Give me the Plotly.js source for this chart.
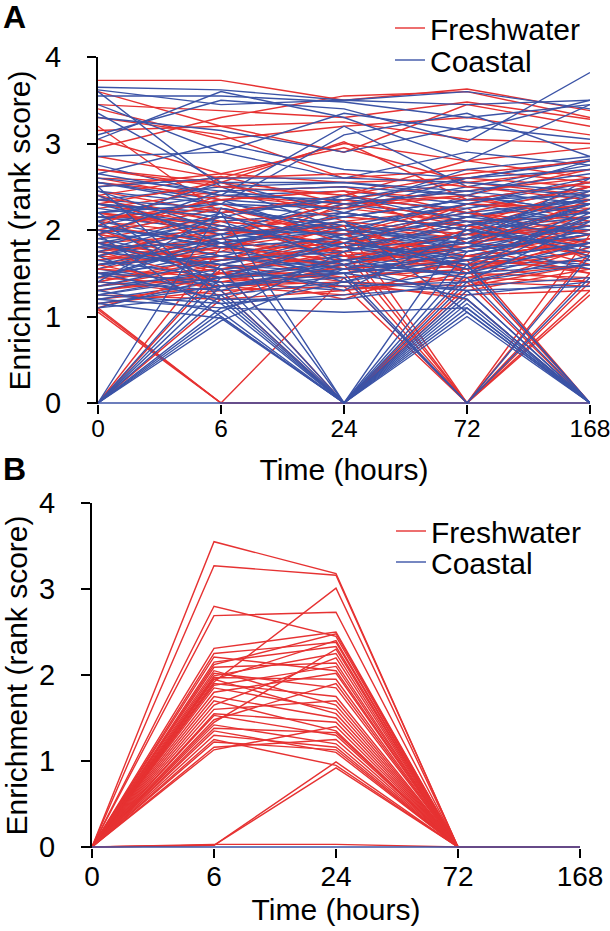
<!DOCTYPE html>
<html>
<head>
<meta charset="utf-8">
<script src="https://cdn.plot.ly/plotly-3.0.1.min.js"></script>
<style>html,body{margin:0;padding:0;background:#fff;}#chart{width:610px;height:931px;}</style>
</head>
<body>
<div id="chart"></div>
<script>
// ---------- data ----------
var timeCategories = ['0', '6', '24', '72', '168'];
var yTickValues = [0, 1, 2, 3, 4];
var yTickLabels = ['0', '1', '2', '3', '4'];

// Panel A - Freshwater (rank scores at 0, 6, 24, 72, 168 h)
var freshwaterA_upper = [
  [3.73,3.73,3.50,3.63,3.38],[3.45,3.38,3.30,3.48,3.28],[3.40,3.05,3.20,3.30,3.10],
  [3.15,3.20,3.25,3.05,3.00],[3.05,2.65,2.95,2.55,2.70],[2.95,3.30,3.55,3.60,3.30],
  [3.60,3.20,2.90,3.45,3.20],[2.85,2.60,3.00,2.80,2.60],[3.30,3.10,2.60,2.70,2.55],
  [2.70,2.55,2.40,2.80,2.95],[3.20,2.20,2.40,2.20,2.50],[2.60,2.55,3.02,2.35,2.20],
  [2.40,2.62,2.30,2.40,2.10]
];
var freshwaterA_band1 = [
  [1.85,1.95,2.05,1.90,2.10],[2.15,2.25,1.95,2.30,2.20],[1.60,1.75,1.85,1.70,1.95],
  [2.35,2.10,2.20,2.00,2.45],[1.95,1.70,1.60,1.85,1.75],[1.45,1.55,1.70,1.60,1.65],
  [2.55,2.40,2.30,2.45,2.60],[1.75,2.00,2.15,2.05,1.85],[2.05,1.85,1.75,2.15,2.30],
  [1.30,1.45,1.55,1.40,1.35],[2.25,2.45,2.50,2.20,2.05],[1.70,1.60,1.90,1.75,2.00],
  [1.90,2.15,2.00,1.65,1.90],[2.45,2.20,2.35,2.55,2.40],[1.55,1.80,1.65,1.95,1.70],
  [2.10,1.95,2.25,2.10,2.15],[1.20,1.35,1.25,1.50,1.45],
  [1.60,1.85,1.55,1.90,2.15],[2.20,1.95,2.10,2.25,1.65],[1.40,1.65,1.95,1.55,1.85],
  [1.95,1.75,2.30,2.05,2.50]
];
var freshwaterA_band2 = [
  [1.80,1.65,1.80,2.30,2.25],[2.30,2.55,2.10,1.95,2.00],[1.65,1.90,2.35,2.10,1.80],
  [2.00,2.30,1.85,1.80,2.35],[1.50,1.40,1.50,1.65,1.55],[2.60,2.35,2.45,2.35,2.55],
  [1.35,1.60,1.40,1.35,1.60],[2.20,2.05,1.70,1.95,2.05],[1.95,2.40,2.25,2.40,2.70],
  [1.40,1.25,1.60,1.80,1.50],[2.50,2.65,2.55,2.60,2.50],[1.15,1.30,1.35,1.25,1.30],
  [1.70,2.10,1.95,2.20,1.95],[2.40,1.80,2.00,1.70,1.85],[1.85,1.50,1.45,1.55,1.75],
  [2.05,2.60,2.65,2.50,2.35],[1.25,1.20,1.30,1.45,1.40],[2.70,2.50,2.40,2.65,2.80],
  [1.75,1.40,1.65,2.00,1.60],[2.30,2.05,1.75,1.60,1.95],[1.10,1.50,1.20,1.70,1.50],
  [2.10,2.35,2.45,1.85,2.25]
];
var freshwaterA_zero = [
  [0,1.20,1.60,1.85,2.00],[0,1.55,1.80,2.05,1.70],[0,1.80,2.10,1.50,1.90],
  [1.05,0,1.45,1.60,1.40],[1.08,0,0,1.30,1.55],[1.10,0,0,0,0],
  [1.60,1.30,0,1.35,1.80],[2.00,1.55,0,1.45,1.60],[1.40,1.70,1.45,0,1.30],
  [1.75,1.90,1.60,0,1.50],[2.20,2.00,1.85,0,1.75],[1.55,1.45,1.35,0,1.95],
  [1.85,1.65,2.05,0,1.40],[1.30,1.50,1.75,0,1.25],[2.40,2.10,1.95,1.40,0],
  [1.65,1.80,1.55,1.65,0],[1.95,2.25,1.70,1.55,0],[1.45,1.35,1.40,1.20,0]
];

// Panel A - Coastal
var coastalA_upper = [
  [3.65,3.62,3.50,3.60,3.40],[3.62,3.45,3.50,3.45,3.50],[3.55,3.55,3.48,3.30,3.45],
  [3.10,3.50,3.40,3.02,3.82],[3.45,2.90,3.35,3.15,3.50],[3.30,3.15,2.90,3.20,3.05],
  [3.05,3.60,3.30,2.80,3.45],[2.75,2.40,3.20,2.50,2.40],[3.35,2.55,2.20,2.60,2.80],
  [2.85,2.90,2.60,2.90,2.75],[2.65,3.00,2.70,2.60,2.82],[3.60,2.50,2.55,2.40,2.20],
  [2.55,2.30,3.10,3.35,2.85]
];
var coastalA_band1 = [
  [1.90,2.00,1.95,2.10,2.20],[2.10,1.85,2.05,1.95,2.25],[1.65,1.80,1.70,1.85,2.05],
  [2.30,2.20,2.35,2.25,2.45],[1.75,1.55,1.65,1.80,1.90],[1.50,1.65,1.80,1.70,2.00],
  [2.45,2.30,2.15,2.35,2.55],[1.85,2.10,2.20,2.00,2.15],[2.00,1.90,1.75,2.05,2.35],
  [1.35,1.50,1.45,1.60,1.75],[2.20,2.40,2.45,2.30,2.10],[1.60,1.70,1.95,1.90,2.30],
  [1.95,2.25,2.05,1.75,1.95],[2.55,2.35,2.25,2.50,2.75],[1.45,1.75,1.60,2.00,1.80],
  [2.15,2.00,2.30,2.15,2.40],[1.20,1.40,1.30,1.55,1.65],[1.80,1.60,1.85,2.25,2.50],
  [2.35,2.50,2.00,1.90,2.05],[1.70,1.95,2.40,2.20,1.85],[2.05,2.35,1.90,1.85,2.60],
  [1.55,1.35,1.55,1.70,1.60],
  [1.55,1.95,1.85,2.15,2.35],[2.15,2.10,1.65,1.95,2.05],[1.90,1.60,1.95,2.40,2.20],
  [1.25,1.50,1.70,1.45,1.80],[2.35,2.25,2.05,2.30,2.55]
];
var coastalA_band2 = [
  [2.60,2.45,2.50,2.40,2.80],[1.30,1.55,1.35,1.40,1.70],[2.25,2.05,1.80,2.05,2.20],
  [1.95,2.45,2.30,2.45,2.65],[1.40,1.30,1.65,1.85,1.55],[2.50,2.60,2.60,2.55,2.45],
  [1.10,1.25,1.40,1.30,1.35],[1.75,2.15,1.90,2.15,2.00],[2.40,1.85,2.10,1.75,1.95],
  [1.85,1.45,1.50,1.65,1.85],[2.10,2.55,2.55,2.45,2.30],[1.25,1.15,1.25,1.35,1.45],
  [2.65,2.40,2.35,2.60,2.70],[1.60,1.90,2.15,2.35,2.40],[2.00,1.70,1.55,1.50,2.15],
  [1.15,1.35,1.50,1.75,1.95],[2.30,2.15,2.40,2.10,1.70],[1.70,2.05,1.80,1.60,2.25],
  [1.50,1.20,1.20,1.40,2.10],[2.20,2.30,2.25,2.70,2.85],[1.80,1.85,2.00,2.30,2.60],
  [1.35,1.65,1.75,1.95,2.45],[2.45,2.00,1.95,2.20,2.35],
  [1.65,1.45,1.85,1.65,2.15],[2.05,1.80,2.20,2.00,1.80],[1.45,1.85,1.40,1.80,2.30],
  [1.80,2.20,1.60,1.90,2.40],[1.10,1.45,1.60,1.50,1.60]
];
var coastalA_zero = [
  [0,0.95,1.55,1.80,2.05],[0,1.00,0,1.05,0],[0,1.05,1.75,2.10,1.95],
  [0,1.10,1.40,1.65,1.85],[0,1.25,0,1.20,0],[0,1.45,1.90,1.55,2.20],
  [0,1.60,1.30,2.00,1.75],[0,2.25,2.00,1.85,2.30],[0,1.35,1.60,1.20,0],
  [1.15,0.98,0,1.10,0],[1.30,1.05,0,1.00,0],[1.70,1.15,0,1.30,0],
  [2.10,1.30,0,1.15,0],[1.50,1.40,0,1.50,1.85],[1.85,1.55,0,1.75,2.10],
  [2.30,1.95,0,2.05,2.30],[1.40,2.20,0,1.40,1.60],[1.95,1.00,0,1.25,1.40],
  [2.50,1.20,0,1.60,0],[1.60,1.70,1.50,1.30,0],[1.25,1.45,1.65,1.45,0],
  [2.05,1.80,1.90,1.60,0],[1.45,1.90,2.10,1.05,0],[1.75,1.60,1.50,0,1.45],
  [2.20,1.35,1.45,0,1.70],[1.20,1.10,1.05,1.10,0],
  [0,0,0,0,0]
];

// Panel B - Freshwater
var freshwaterB = [
  [0,3.55,3.18,0,0],[0,3.27,3.16,0,0],[0,2.80,2.45,0,0],[0,2.69,2.73,0,0],
  [0,2.31,2.50,0,0],[0,2.25,2.38,0,0],[0,2.21,2.05,0,0],[0,2.15,2.33,0,0],
  [0,2.09,2.14,0,0],[0,2.02,1.85,0,0],[0,1.99,2.25,0,0],[0,1.97,1.95,0,0],
  [0,1.95,2.40,0,0],[0,1.92,3.01,0,0],[0,1.90,1.75,0,0],[0,1.88,2.10,0,0],
  [0,1.85,1.60,0,0],[0,1.80,2.02,0,0],[0,1.75,1.50,0,0],[0,1.70,1.35,0,0],
  [0,1.65,2.20,0,0],[0,1.55,1.45,0,0],[0,1.53,1.30,0,0],[0,1.48,1.90,0,0],
  [0,1.42,1.20,0,0],[0,1.38,1.33,0,0],[0,1.30,1.16,0,0],[0,1.22,1.13,0,0],
  [0,1.16,1.25,0,0],[0,1.13,1.40,0,0],[0,0.02,0.99,0,0],[0,0.02,0.92,0,0],
  [0,1.60,1.70,0,0],[0,2.05,1.65,0,0],[0,1.45,2.30,0,0],[0,0.03,0.03,0,0],
  [0,1.25,0.95,0,0],[0,1.95,1.55,0,0],[0,2.12,2.48,0,0],[0,1.35,1.10,0,0]
];
// Panel B - Coastal
var coastalB = [
  [0,0,0,0,0]
];

// ---------- styling ----------
var RED = '#e63232';
var BLUE = '#3b53a6';
var FONT = '"Liberation Sans", Arial, Helvetica, sans-serif';
var LW = 1.4;

function linesTrace(rows, color, xa, ya, opts) {
  var xs = [], ys = [];
  rows.forEach(function (r) {
    for (var i = 0; i < timeCategories.length; i++) { xs.push(timeCategories[i]); ys.push(r[i]); }
    xs.push(null); ys.push(null);
  });
  var t = {
    type: 'scatter', mode: 'lines', x: xs, y: ys, xaxis: xa, yaxis: ya,
    line: {color: color, width: LW}, connectgaps: false, hoverinfo: 'skip', showlegend: false
  };
  if (opts) for (var k in opts) t[k] = opts[k];
  return t;
}

var traces = [
  linesTrace(freshwaterA_band1, RED, 'x', 'y', {showlegend: true, name: 'Freshwater', legend: 'legend'}),
  linesTrace(coastalA_band1, BLUE, 'x', 'y', {showlegend: true, name: 'Coastal', legend: 'legend2'}),
  linesTrace(freshwaterA_upper, RED, 'x', 'y'),
  linesTrace(coastalA_upper, BLUE, 'x', 'y'),
  linesTrace(freshwaterA_band2, RED, 'x', 'y'),
  linesTrace(freshwaterA_zero, RED, 'x', 'y'),
  linesTrace(coastalA_band2, BLUE, 'x', 'y'),
  linesTrace(coastalA_zero, BLUE, 'x', 'y'),
  linesTrace(freshwaterB, RED, 'x2', 'y2', {showlegend: true, name: 'Freshwater', legend: 'legend3'}),
  linesTrace(coastalB, BLUE, 'x2', 'y2', {showlegend: true, name: 'Coastal', legend: 'legend4'})
];

var W = 610, H = 931;
function px(v) { return v / W; }
function py(v) { return 1 - v / H; }

function xAxis(dom, anchor, tickSize, titleStandoff) {
  return {
    domain: dom, anchor: anchor, type: 'category', categoryorder: 'array', categoryarray: timeCategories,
    range: [0, 4], showline: false, showgrid: false, zeroline: false,
    ticks: 'outside', ticklen: 9, tickwidth: 2, tickcolor: '#000',
    tickfont: {family: FONT, size: tickSize, color: '#000'}, ticklabelstandoff: -6,
    title: {text: 'Time (hours)', font: {family: FONT, size: 30, color: '#000'}, standoff: titleStandoff},
    fixedrange: true
  };
}
function yAxis(dom, anchor) {
  return {
    domain: dom, anchor: anchor, range: [-0.012, 4], showline: true, linewidth: 2, linecolor: '#000',
    showgrid: false, zeroline: false, ticks: 'outside', ticklen: 9, tickwidth: 2, tickcolor: '#000',
    tickmode: 'array', tickvals: yTickValues, ticktext: yTickLabels,
    tickfont: {family: FONT, size: 29, color: '#000'}, ticklabelstandoff: 20,
    title: {text: 'Enrichment (rank score)', font: {family: FONT, size: 30, color: '#000'}, standoff: 6},
    fixedrange: true
  };
}
function legendAt(xPix, yPix) {
  return {
    x: px(xPix), y: py(yPix), xanchor: 'left', yanchor: 'middle', bgcolor: 'rgba(0,0,0,0)',
    borderwidth: 0, font: {family: FONT, size: 30, color: '#000'}, itemclick: false, itemdoubleclick: false
  };
}

var layout = {
  width: W, height: H, margin: {l: 0, r: 0, t: 0, b: 0},
  paper_bgcolor: '#fff', plot_bgcolor: '#fff', font: {family: FONT, color: '#000'},
  xaxis: xAxis([px(98), px(590)], 'y', 24.5, 17),
  yaxis: yAxis([py(404.04), py(57)], 'x'),
  xaxis2: xAxis([px(92), px(580)], 'y2', 28, 8),
  yaxis2: yAxis([py(848.03), py(503)], 'x2'),
  legend: legendAt(390, 28),
  legend2: legendAt(390, 60),
  legend3: legendAt(391, 531),
  legend4: legendAt(391, 562),
  annotations: [
    {text: '<b>A</b>', xref: 'paper', yref: 'paper', x: px(1), y: py(17), xanchor: 'left', yanchor: 'middle',
     showarrow: false, font: {family: FONT, size: 32, color: '#000'}},
    {text: '<b>B</b>', xref: 'paper', yref: 'paper', x: px(1), y: py(469), xanchor: 'left', yanchor: 'middle',
     showarrow: false, font: {family: FONT, size: 32, color: '#000'}}
  ],
  showlegend: true
};

Plotly.newPlot('chart', traces, layout, {displayModeBar: false, staticPlot: true});
</script>
</body>
</html>
